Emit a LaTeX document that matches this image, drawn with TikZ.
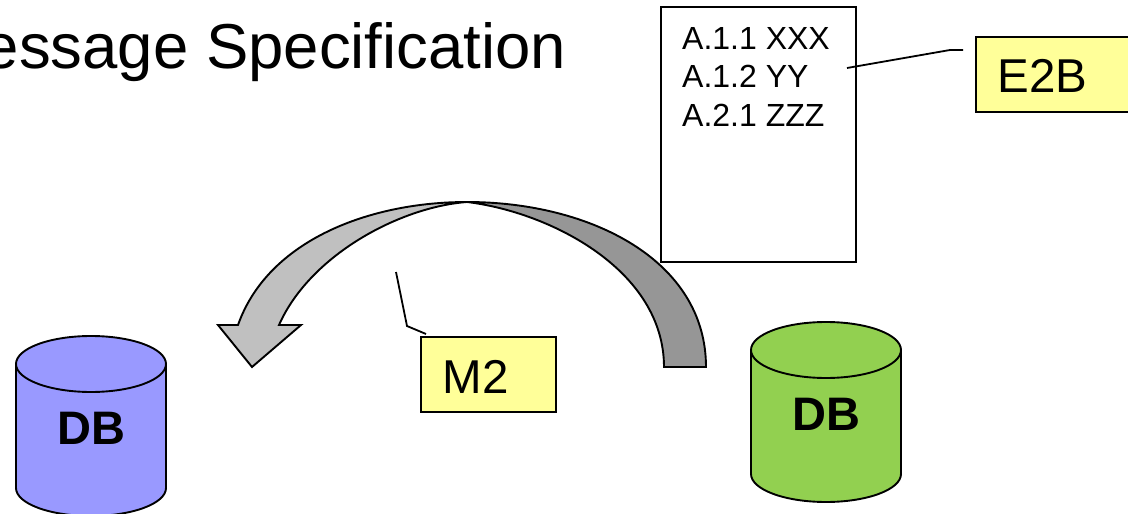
\documentclass[tikz,border=0pt]{standalone}
\usepackage{fontspec}
\setmainfont{Liberation Sans}
\tikzset{
    label box/.style={draw=black, line width=1.9pt, fill=noteyellow, rectangle, anchor=north west, inner sep=0pt},
    leader/.style={black, line width=1.8pt},
    arrow part/.style={draw=black, line width=1.9pt, line join=miter},
}
\definecolor{noteyellow}{HTML}{FFFF99}
\definecolor{dbblue}{HTML}{9999FF}
\definecolor{dbgreen}{HTML}{92D050}
\definecolor{arrowlight}{HTML}{C0C0C0}
\definecolor{arrowdark}{HTML}{969696}
\newcommand{\DBdrum}[4]{
    \draw[black, line width=1.9pt, fill=#3] (#1-75,#2) -- (#1-75,#2+124) arc(180:0:75 and 28) -- (#1+75,#2) arc(360:180:75 and 28) -- cycle;
    \draw[black, line width=1.9pt] (#1-75,#2) arc(180:0:75 and 28);
    \node (#4) at (#1+0.5,#2+64) {\fontsize{47}{56}\selectfont\bfseries DB};
}

\begin{document}
\begin{tikzpicture}[x=1pt,y=-1pt]
    \useasboundingbox (0,0) rectangle (1128,514);
    \node (title) at (566.5,52) [anchor=east, inner sep=0pt] {\fontsize{63.5}{76}\selectfont essage Specification};

    \node (spec) at (660.3,6.3) [draw=black, line width=1.9pt, fill=white, anchor=north west, minimum width=195pt, minimum height=255pt, inner sep=0pt] {};
    \node (specone) at (682,38) [anchor=west, inner sep=0pt] {\fontsize{32}{38}\selectfont A.1.1 XXX};
    \node (spectwo) at (682,76) [anchor=west, inner sep=0pt] {\fontsize{32}{38}\selectfont A.1.2 YY};
    \node (specthree) at (682,115) [anchor=west, inner sep=0pt] {\fontsize{32}{38}\selectfont A.2.1 ZZZ};

    \draw[arrow part, fill=arrowdark] (467,202) .. controls (590,202) and (706,260) .. (706,367) -- (664,367) .. controls (664,270) and (550,212) .. (467,202) -- cycle;
    \draw[arrow part, fill=arrowlight] (467,202) .. controls (370,202) and (268,240) .. (238,325) -- (218,325) -- (252,367) -- (301,325) -- (279,325) .. controls (310,255) and (400,207) .. (467,202) -- cycle;

    \node (etwob) at (975.3,36.3) [label box, minimum width=165pt, minimum height=75pt] {};
    \node (etwobtext) at (997.5,76) [anchor=west, inner sep=0pt] {\fontsize{47.5}{57}\selectfont E2B};
    \node (mtwo) at (420.3,336.3) [label box, minimum width=135pt, minimum height=75pt] {};
    \node (mtwotext) at (442.5,377) [anchor=west, inner sep=0pt] {\fontsize{47.5}{57}\selectfont M2};

    \coordinate (etwobfrom) at (847,68);
    \coordinate (etwobbend) at (950,50);
    \coordinate (etwobto) at (963,50);
    \draw[leader] (etwobfrom) -- (etwobbend) -- (etwobto);
    \coordinate (mtwofrom) at (396,272);
    \coordinate (mtwobend) at (407,326);
    \coordinate (mtwoto) at (426,334);
    \draw[leader] (mtwofrom) -- (mtwobend) -- (mtwoto);

    \DBdrum{91}{364}{dbblue}{dbleft}
    \DBdrum{826}{350}{dbgreen}{dbright}
\end{tikzpicture}
\end{document}
